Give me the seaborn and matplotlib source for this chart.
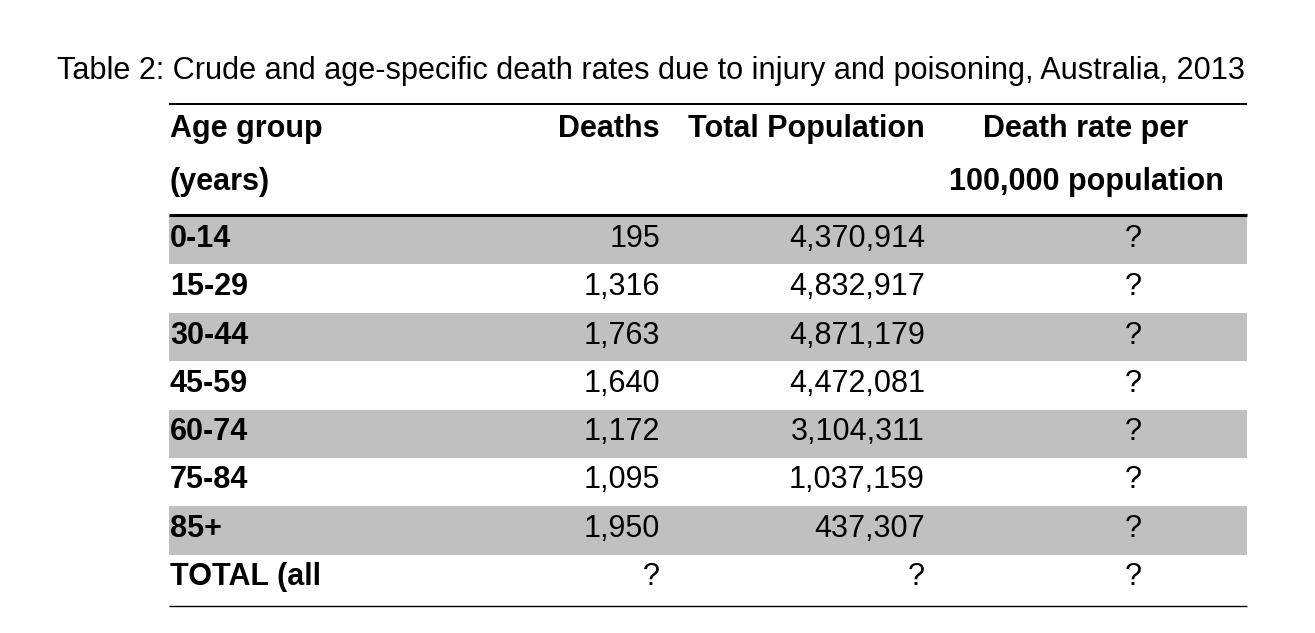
import numpy as np
import pandas as pd
import matplotlib
matplotlib.use("Agg")
import matplotlib.pyplot as plt
import seaborn as sns
from matplotlib.colors import ListedColormap

# ---- data ----
age_groups = ["0-14", "15-29", "30-44", "45-59", "60-74", "75-84", "85+", "TOTAL (all"]
deaths = ["195", "1,316", "1,763", "1,640", "1,172", "1,095", "1,950", "?"]
population = ["4,370,914", "4,832,917", "4,871,179", "4,472,081", "3,104,311",
              "1,037,159", "437,307", "?"]
death_rate = ["?", "?", "?", "?", "?", "?", "?", "?"]
title = "Table 2: Crude and age-specific death rates due to injury and poisoning, Australia, 2013"
header_1 = ["Age group", "Deaths", "Total Population", "Death rate per"]
header_2 = ["(years)", "", "", "100,000 population"]

sns.set_theme(style="white")
plt.rcParams["font.family"] = ["Liberation Sans", "DejaVu Sans"]
plt.rcParams["text.color"] = "black"

W, H = 1315, 633
fig = plt.figure(figsize=(W / 100, H / 100), dpi=100)

# ---- shaded row stripes via seaborn heatmap ----
left, right = 169, 1247
body_top, body_bot = 216, 603
n = len(age_groups)
shade = pd.DataFrame({"s": [1 if i % 2 == 0 else 0 for i in range(n)]}, index=age_groups)
ax_h = fig.add_axes([left / W, 1 - body_bot / H, (right - left) / W, (body_bot - body_top) / H])
sns.heatmap(shade, ax=ax_h, cmap=ListedColormap(["white", "#c0c0c0"]), cbar=False,
            xticklabels=False, yticklabels=False, vmin=0, vmax=1)
ax_h.set_xlabel("")
ax_h.set_ylabel("")
for s in ax_h.spines.values():
    s.set_visible(False)

# ---- text overlay in pixel coordinates ----
ax = fig.add_axes([0, 0, 1, 1])
ax.set_xlim(0, W)
ax.set_ylim(H, 0)
ax.axis("off")
ax.patch.set_alpha(0)

fs = 22
ax.text(57, 79, title, fontsize=22.05, ha="left", va="baseline", color="black")

# rules
ax.plot([left, right], [104, 104], color="black", lw=1.4, solid_capstyle="butt")
ax.plot([left, right], [214.5, 214.5], color="black", lw=2.2, solid_capstyle="butt")
ax.plot([left, right], [606, 606], color="black", lw=1.0, solid_capstyle="butt")

# header
col_x = [170, 660, 925, 1086]
col_ha = ["left", "right", "right", "center"]
for j in range(4):
    ax.text(col_x[j], 137, header_1[j], fontsize=fs, fontweight="bold",
            ha=col_ha[j], va="baseline", color="black")
    if header_2[j]:
        ax.text(col_x[j], 190, header_2[j], fontsize=fs, fontweight="bold",
                ha=col_ha[j], va="baseline", color="black")

# body
for i in range(n):
    yb = 247 + 48.3 * i
    ax.text(170, yb, age_groups[i], fontsize=fs, fontweight="bold", ha="left", va="baseline", color="black")
    ax.text(660, yb, deaths[i], fontsize=fs, ha="right", va="baseline", color="black")
    ax.text(925, yb, population[i], fontsize=fs, ha="right", va="baseline", color="black")
    ax.text(1133, yb, death_rate[i], fontsize=fs, ha="center", va="baseline", color="black")

fig.savefig("out.png", dpi=100)
